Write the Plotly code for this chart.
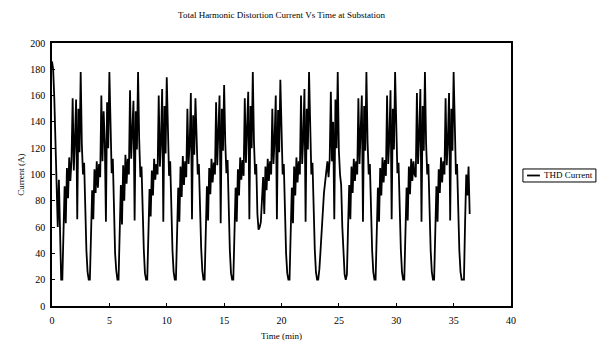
import plotly.graph_objects as go

# ---- data (THD current, A) sampled every 0.1 min ----
sample_step_min = 0.1
seg_start = [186, 180, 158, 122, 100, 60, 96, 40]
cycle_01 = [20, 20, 50, 91, 63, 105, 82, 113, 95, 111, 158, 103, 127, 157, 66, 150, 117, 178, 123, 100, 109, 64, 42, 26]
cycle_02 = [20, 20, 46, 88, 66, 104, 86, 110, 90, 108, 98, 160, 110, 148, 125, 64, 155, 120, 178, 130, 101, 112, 60, 40, 27]
cycle_03 = [20, 20, 52, 92, 62, 107, 80, 115, 93, 112, 100, 164, 112, 130, 156, 65, 148, 119, 178, 126, 98, 106, 62, 43, 25]
cycle_04 = [20, 20, 48, 89, 68, 103, 84, 112, 96, 108, 100, 160, 106, 126, 165, 64, 152, 116, 174, 121, 99, 110, 60, 42, 26]
cycle_05 = [20, 20, 50, 90, 64, 106, 83, 114, 92, 110, 98, 150, 108, 124, 162, 66, 145, 115, 158, 120, 100, 108, 62, 44, 27]
cycle_06 = [20, 20, 47, 91, 65, 105, 85, 112, 94, 109, 100, 155, 107, 128, 160, 63, 150, 118, 168, 124, 101, 111, 61, 42, 25]
cycle_07 = [20, 20, 49, 90, 64, 104, 84, 113, 96, 111, 99, 158, 109, 130, 163, 66, 152, 120, 178, 125, 100, 108, 70]
cycle_08 = [58, 60, 64, 84, 98, 70, 106, 88, 112, 95, 110, 100, 150, 108, 127, 160, 66, 149, 117, 172, 121, 100, 108, 60, 40, 25]
cycle_09 = [20, 20, 48, 90, 63, 106, 84, 113, 94, 110, 100, 160, 108, 129, 165, 64, 150, 119, 178, 124, 100, 109, 61, 43, 26]
cycle_10 = [20, 20, 28, 42, 58, 74, 86, 94, 104, 110, 98, 112, 163, 110, 140, 66, 157, 120, 178, 118, 100, 92, 60, 40, 24]
cycle_11 = [20, 24, 60, 92, 66, 106, 86, 112, 95, 110, 100, 158, 108, 130, 160, 64, 152, 118, 178, 125, 100, 108, 62, 42, 26]
cycle_12 = [20, 20, 50, 90, 64, 105, 84, 113, 94, 111, 99, 160, 108, 128, 164, 66, 150, 119, 178, 124, 101, 109, 62, 43, 26]
cycle_13 = [20, 20, 48, 90, 65, 106, 85, 112, 95, 110, 100, 98, 162, 108, 130, 165, 64, 152, 118, 178, 124, 100, 108, 62, 42, 26]
cycle_14 = [20, 20, 50, 91, 64, 104, 86, 113, 94, 110, 100, 158, 107, 126, 162, 65, 150, 118, 178, 123, 100, 108, 62, 42, 26]
seg_end = [20, 20, 20, 64, 100, 84, 106, 70]

x_ticks = [0, 5, 10, 15, 20, 25, 30, 35, 40]
y_ticks = [0, 20, 40, 60, 80, 100, 120, 140, 160, 180, 200]
series_name = "THD Current"

current = (seg_start + cycle_01 + cycle_02 + cycle_03 + cycle_04 + cycle_05 + cycle_06
           + cycle_07 + cycle_08 + cycle_09 + cycle_10 + cycle_11 + cycle_12 + cycle_13
           + cycle_14 + seg_end)
time_min = [round(i * sample_step_min, 1) for i in range(len(current))]

FONT = "Liberation Serif"

fig = go.Figure()
fig.add_trace(go.Scatter(x=time_min, y=current, mode="lines", name=series_name,
                         showlegend=False, line=dict(color="black", width=1.8)))

# compact legend box (drawn in paper coordinates)
fig.add_shape(type="rect", xref="paper", yref="paper", x0=1.026, x1=1.185, y0=0.4715, y1=0.521,
              line=dict(color="black", width=1), fillcolor="white")
fig.add_shape(type="line", xref="paper", yref="paper", x0=1.035, x1=1.063, y0=0.4962, y1=0.4962,
              line=dict(color="black", width=1.8))
fig.add_annotation(xref="paper", yref="paper", x=1.068, y=0.4962, xanchor="left", yanchor="middle",
                   text=series_name, showarrow=False, font=dict(family=FONT, size=9, color="black"))

fig.update_layout(
    width=598, height=343,
    margin=dict(l=52, r=87, t=43, b=37, autoexpand=False),
    paper_bgcolor="white", plot_bgcolor="white",
    font=dict(family=FONT, size=10, color="black"),
    title=dict(text="Total Harmonic Distortion Current Vs Time at Substation",
               x=0.5, xref="paper", xanchor="center", y=0.956, yref="container", yanchor="middle",
               font=dict(family=FONT, size=9, color="black")),
)
fig.update_xaxes(range=[0, 40], tickvals=x_ticks, showgrid=False, zeroline=False,
                 showline=True, linecolor="black", linewidth=1.5, mirror=True,
                 ticks="inside", ticklen=3, tickcolor="black", ticklabelstandoff=4,
                 title=dict(text="Time (min)", font=dict(family=FONT, size=9), standoff=8),
                 tickfont=dict(family=FONT, size=10))
fig.update_yaxes(range=[0, 200], tickvals=y_ticks, showgrid=False, zeroline=False,
                 showline=True, linecolor="black", linewidth=1.5, mirror=True,
                 ticks="inside", ticklen=3, tickcolor="black", ticklabelstandoff=3,
                 title=dict(text="Current (A)", font=dict(family=FONT, size=9), standoff=4),
                 tickfont=dict(family=FONT, size=10))

fig.write_html("out.html", config={"displayModeBar": False},
               post_script="document.body.style.margin='0px';")
